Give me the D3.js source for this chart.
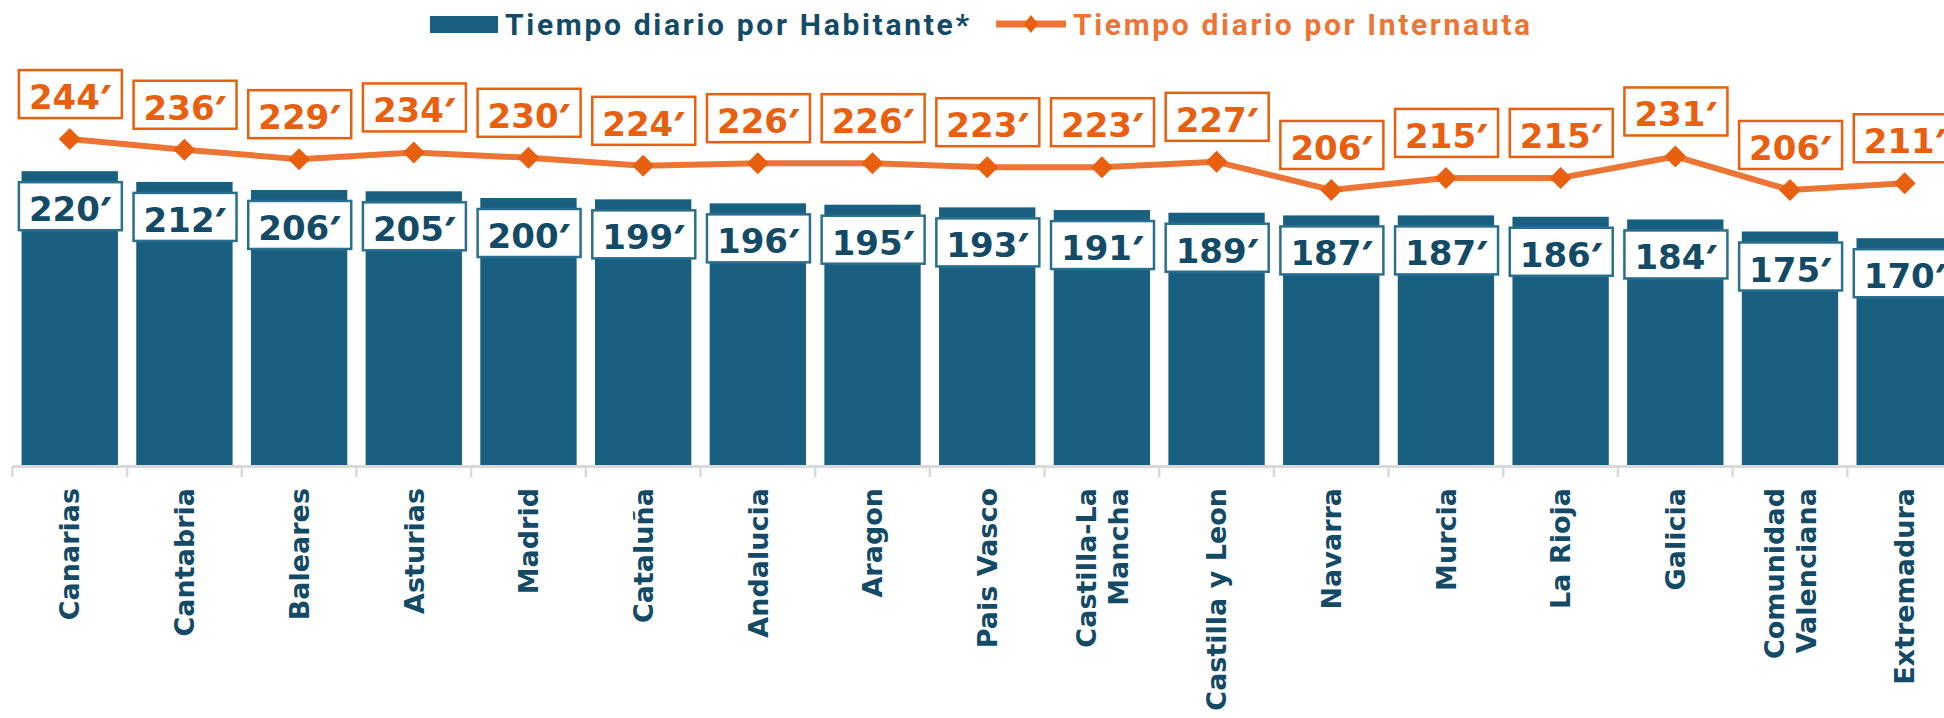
<!DOCTYPE html>
<html>
<head>
<meta charset="utf-8">
<script src="https://cdn.jsdelivr.net/npm/d3@7"></script>
<style>
  body { margin: 0; background: #fff; }
  svg { display: block; }
</style>
</head>
<body>
<div id="chart"></div>
<script>
// data
const regiones = ["Canarias", "Cantabria", "Baleares", "Asturias", "Madrid", "Cataluña",
  "Andalucia", "Aragon", "Pais Vasco", "Castilla-La Mancha", "Castilla y Leon", "Navarra",
  "Murcia", "La Rioja", "Galicia", "Comunidad Valenciana", "Extremadura"];
const etiquetas = [["Canarias"], ["Cantabria"], ["Baleares"], ["Asturias"], ["Madrid"], ["Cataluña"],
  ["Andalucia"], ["Aragon"], ["Pais Vasco"], ["Castilla-La", "Mancha"], ["Castilla y Leon"], ["Navarra"],
  ["Murcia"], ["La Rioja"], ["Galicia"], ["Comunidad", "Valenciana"], ["Extremadura"]];
const porHabitante = [220, 212, 206, 205, 200, 199, 196, 195, 193, 191, 189, 187, 187, 186, 184, 175, 170];
const porInternauta = [244, 236, 229, 234, 230, 224, 226, 226, 223, 223, 227, 206, 215, 215, 231, 206, 211];
const yDomain = [0, 300];
const serieNombres = ["Tiempo diario por Habitante*", "Tiempo diario por Internauta"];

const width = 1944, height = 718;
const azul = "#185f80", azulTexto = "#134a66";
const naranja = "#ec7535", naranjaOsc = "#e8600f";
const numFont = "'DejaVu Sans', sans-serif";

const svg = d3.select("#chart").append("svg")
  .attr("width", width)
  .attr("height", height);

const x = d3.scaleBand()
  .domain(regiones)
  .range([12.4, 1962])
  .paddingInner(0.16)
  .paddingOuter(0.08);

const y = d3.scaleLinear()
  .domain(yDomain)
  .range([466, 64]);

const data = regiones.map((r, i) => ({r, hab: porHabitante[i], net: porInternauta[i], lab: etiquetas[i]}));
const cx = d => x(d.r) + x.bandwidth() / 2;

// bars
svg.append("g")
  .selectAll("rect")
  .data(data)
  .join("rect")
  .attr("x", d => x(d.r))
  .attr("width", x.bandwidth())
  .attr("y", d => y(d.hab))
  .attr("height", d => y(0) - y(d.hab))
  .attr("fill", azul);

// axis
const axisG = svg.append("g")
  .attr("transform", `translate(0,${y(0)})`)
  .call(d3.axisBottom(x).tickSize(0).tickFormat(""));
axisG.select(".domain").attr("stroke", "#d9d9d9").attr("stroke-width", 3);
axisG.selectAll(".tick").remove();
axisG.selectAll("line.sep")
  .data(d3.range(regiones.length + 1))
  .join("line")
  .attr("class", "sep")
  .attr("x1", i => x.range()[0] + i * x.step())
  .attr("x2", i => x.range()[0] + i * x.step())
  .attr("y1", 0)
  .attr("y2", 11)
  .attr("stroke", "#d9d9d9")
  .attr("stroke-width", 2.5);

// category labels
const catG = svg.append("g")
  .selectAll("g")
  .data(data)
  .join("g")
  .attr("transform", d => `translate(${cx(d)},488) rotate(-90)`);
catG.each(function(d) {
  const n = d.lab.length;
  d3.select(this).selectAll("text")
    .data(d.lab)
    .join("text")
    .attr("x", 0)
    .attr("y", (t, j) => (j - (n - 1) / 2) * 32)
    .attr("dy", "0.36em")
    .attr("text-anchor", "end")
    .attr("font-family", numFont)
    .attr("font-weight", "bold")
    .attr("font-size", 27)
    .attr("fill", azulTexto)
    .text(t => t);
});

// line
const line = d3.line().x(cx).y(d => y(d.net));
svg.append("path")
  .datum(data)
  .attr("d", line)
  .attr("fill", "none")
  .attr("stroke", naranja)
  .attr("stroke-width", 6)
  .attr("stroke-linejoin", "round");

svg.append("g")
  .selectAll("path")
  .data(data)
  .join("path")
  .attr("transform", d => `translate(${cx(d)},${y(d.net)})`)
  .attr("d", "M0,-11L11,0L0,11L-11,0Z")
  .attr("fill", naranjaOsc);

// data label boxes
function labelBox(g, val, boxTop, stroke, color) {
  const t = g.append("text")
    .attr("text-anchor", "middle")
    .attr("y", boxTop + 39)
    .attr("font-family", numFont)
    .attr("font-weight", "bold")
    .attr("font-size", 34)
    .attr("fill", color);
  t.append("tspan").text(val);
  t.append("tspan")
    .attr("font-family", "'Noto Sans', 'Open Sans', sans-serif")
    .attr("font-weight", 900)
    .text("′");
  const bb = t.node().getBBox();
  g.insert("rect", "text")
    .attr("x", bb.x - 10)
    .attr("y", boxTop)
    .attr("width", bb.width + 20)
    .attr("height", 48)
    .attr("fill", "#fff")
    .attr("stroke", stroke)
    .attr("stroke-width", 2.5);
}

svg.append("g")
  .selectAll("g")
  .data(data)
  .join("g")
  .attr("transform", d => `translate(${cx(d)},0)`)
  .each(function(d) {
    labelBox(d3.select(this), d.hab, y(d.hab) + 11, "#2b6f8f", azulTexto);
  });

svg.append("g")
  .selectAll("g")
  .data(data)
  .join("g")
  .attr("transform", d => `translate(${cx(d)},0)`)
  .each(function(d) {
    labelBox(d3.select(this), d.net, y(d.net) - 21 - 48, naranjaOsc, naranjaOsc);
  });

// legend
const leg = svg.append("g");
leg.append("rect")
  .attr("x", 430).attr("y", 16).attr("width", 68).attr("height", 17)
  .attr("fill", azul);
leg.append("text")
  .attr("x", 505).attr("y", 35)
  .attr("font-family", "Roboto, sans-serif")
  .attr("font-weight", "bold")
  .attr("font-size", 30)
  .attr("textLength", 464)
  .attr("lengthAdjust", "spacing")
  .attr("fill", azulTexto)
  .text(serieNombres[0]);
leg.append("line")
  .attr("x1", 996).attr("x2", 1066).attr("y1", 24).attr("y2", 24)
  .attr("stroke", naranja).attr("stroke-width", 7);
leg.append("path")
  .attr("transform", "translate(1031,24)")
  .attr("d", "M0,-9L7,0L0,9L-7,0Z")
  .attr("fill", naranjaOsc);
leg.append("text")
  .attr("x", 1073).attr("y", 35)
  .attr("font-family", "Roboto, sans-serif")
  .attr("font-weight", "bold")
  .attr("font-size", 30)
  .attr("textLength", 457)
  .attr("lengthAdjust", "spacing")
  .attr("fill", naranja)
  .text(serieNombres[1]);
</script>
</body>
</html>
